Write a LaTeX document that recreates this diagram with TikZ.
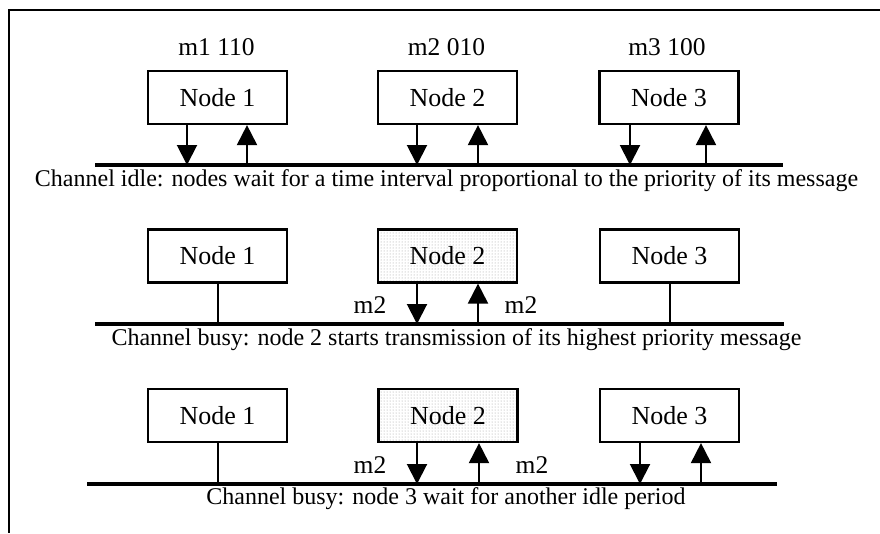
\documentclass[tikz,border=0pt]{standalone}
\usepackage{fontspec}
\setmainfont{Liberation Serif}
\usetikzlibrary{arrows.meta,patterns}

\tikzset{
  station/.style={draw, line width=2.2pt, minimum width=139pt, minimum height=53pt, inner sep=0pt, font=\fontsize{26}{30}\selectfont},
  busy/.style={station, pattern=dots, pattern color=black!40},
  busline/.style={line width=3.6pt},
  msg/.style={line width=2pt, -{Triangle[width=20pt,length=20pt]}},
  tap/.style={line width=2pt},
  prio/.style={font=\fontsize{25.5}{29}\selectfont, anchor=base, inner sep=0pt},
  note/.style={font=\fontsize{24}{28}\selectfont, anchor=base, inner sep=0pt},
}

\begin{document}
\begin{tikzpicture}[x=1pt,y=-1pt]
			\useasboundingbox (0,0) rectangle (880,533);
			
			%%%%% FRAME %%%%%
			\draw[line width=2pt] (880,10) -- (9,10) -- (9,533);
			
			%%%%% CHANNEL IDLE %%%%%
			\node[prio] (mA1) at (216.5,55) {m1 110};
			\node[prio] (mA2) at (446.5,55) {m2 010};
			\node[prio] (mA3) at (667,55) {m3 100};
			
			\node[station] (nA1) at (217.5,97.5) {Node 1};
			\node[station] (nA2) at (447.5,97.5) {Node 2};
			\node[station] (nA3) at (669,97.5) {Node 3};
			
			\coordinate (busAw) at (95,165);
			\coordinate (busAe) at (783,165);
			\draw[busline] (busAw) -- (busAe);
			
			\draw[msg] ([xshift=-30.5pt]nA1.south) -- ([xshift=-30.5pt]nA1.south |- busAw);
			\draw[msg] ([xshift=29.5pt]nA1.south |- busAw) -- ([xshift=29.5pt]nA1.south);
			\draw[msg] ([xshift=-30.5pt]nA2.south) -- ([xshift=-30.5pt]nA2.south |- busAw);
			\draw[msg] ([xshift=30.5pt]nA2.south |- busAw) -- ([xshift=30.5pt]nA2.south);
			\draw[msg] ([xshift=-39pt]nA3.south) -- ([xshift=-39pt]nA3.south |- busAw);
			\draw[msg] ([xshift=37pt]nA3.south |- busAw) -- ([xshift=37pt]nA3.south);
			
			\node[note] (cA) at (446.5,186.5) {Channel idle: nodes wait for a time interval proportional to the priority of its message};
			
			%%%%% NODE 2 SENDS %%%%%
			\node[station] (nB1) at (217.5,256) {Node 1};
			\node[busy] (nB2) at (447.5,256) {Node 2};
			\node[station] (nB3) at (669.5,256) {Node 3};
			
			\coordinate (busBw) at (95,324);
			\coordinate (busBe) at (784,324);
			\draw[busline] (busBw) -- (busBe);
			
			\draw[tap] (nB1.south) -- (nB1.south |- busBw);
			\draw[msg] ([xshift=-30.5pt]nB2.south) -- ([xshift=-30.5pt]nB2.south |- busBw);
			\draw[msg] ([xshift=30.5pt]nB2.south |- busBw) -- ([xshift=30.5pt]nB2.south);
			\draw[tap] (nB3.south) -- (nB3.south |- busBw);
			
			\node[prio] (sB1) at (370,313) {m2};
			\node[prio] (sB2) at (521,313) {m2};
			
			\node[note] (cB) at (456.5,345.5) {Channel busy: node 2 starts transmission of its highest priority message};
			
			%%%%% NODE 3 WAITS %%%%%
			\node[station] (nC1) at (217.5,415.5) {Node 1};
			\node[busy] (nC2) at (448,415.5) {Node 2};
			\node[station] (nC3) at (669.5,415.5) {Node 3};
			
			\coordinate (busCw) at (87,484);
			\coordinate (busCe) at (777,484);
			\draw[busline] (busCw) -- (busCe);
			
			\draw[tap] (nC1.south) -- (nC1.south |- busCw);
			\draw[msg] ([xshift=-31pt]nC2.south) -- ([xshift=-31pt]nC2.south |- busCw);
			\draw[msg] ([xshift=31pt]nC2.south |- busCw) -- ([xshift=31pt]nC2.south);
			\draw[msg] ([xshift=-29.5pt]nC3.south) -- ([xshift=-29.5pt]nC3.south |- busCw);
			\draw[msg] ([xshift=31.5pt]nC3.south |- busCw) -- ([xshift=31.5pt]nC3.south);
			
			\node[prio] (sC1) at (370,473) {m2};
			\node[prio] (sC2) at (532,473) {m2};
			
			\node[note] (cC) at (446,504.5) {Channel busy: node 3 wait for another idle period};
			
		\end{tikzpicture}
\end{document}
